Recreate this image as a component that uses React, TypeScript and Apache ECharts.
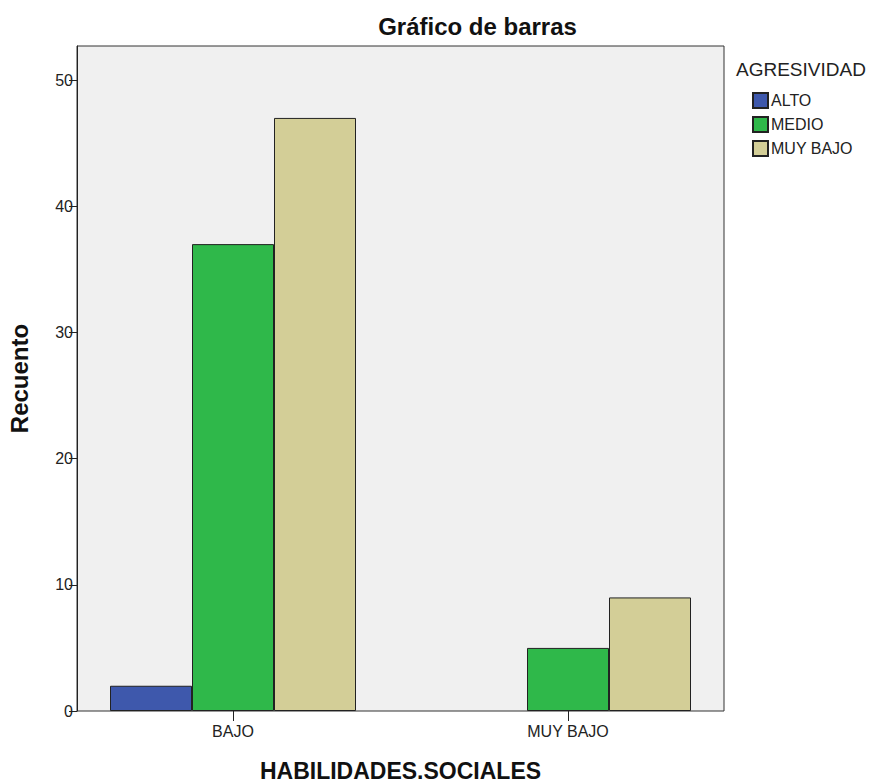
import React, { useEffect, useRef } from "react";
import * as echarts from "echarts";

const categories = ["BAJO", "MUY BAJO"];
const seriesNames = ["ALTO", "MEDIO", "MUY BAJO"];
const altoValues = [2, null];
const medioValues = [37, 5];
const muyBajoValues = [47, 9];
const yTicks = [0, 10, 20, 30, 40, 50];
const colors = ["#3e58ac", "#2fb84a", "#d3ce97"];

export default function App() {
  const ref = useRef<HTMLDivElement>(null);
  useEffect(() => {
    if (!ref.current) return;
    const chart = echarts.init(ref.current, undefined, { renderer: "svg" });
    const font = "'Liberation Sans', Arial, sans-serif";
    const yMax = 52.7;
    const values = [altoValues, medioValues, muyBajoValues];
    chart.setOption({
      animation: false,
      backgroundColor: "#ffffff",
      textStyle: { fontFamily: font },
      title: {
        text: "Gráfico de barras",
        left: 477.5,
        textAlign: "center",
        top: 14,
        padding: 0,
        textStyle: { fontSize: 24, fontWeight: "bold", color: "#111", fontFamily: font },
      },
      legend: {
        data: seriesNames,
        orient: "vertical",
        left: 752,
        top: 92,
        padding: 0,
        itemWidth: 15,
        itemHeight: 15,
        itemGap: 7,
        icon: "rect",
        textStyle: { fontSize: 16, color: "#222", fontFamily: font, padding: [0, 0, 0, -2] },
      },
      graphic: [
        {
          type: "text",
          x: 736,
          y: 69,
          style: {
            text: "AGRESIVIDAD",
            fontSize: 19,
            fontFamily: font,
            fill: "#222",
            verticalAlign: "middle",
            align: "left",
          },
        },
      ],
      grid: [
        {
          left: 77,
          top: 46,
          width: 647,
          height: 665,
          show: true,
          backgroundColor: "#f0f0f0",
          borderColor: "#333",
          borderWidth: 1,
          containLabel: false,
          outerBoundsMode: "none",
        },
        {
          left: 65.5,
          top: 46,
          width: 670,
          height: 665,
          containLabel: false,
          outerBoundsMode: "none",
        },
      ],
      xAxis: [
        { type: "value", gridIndex: 0, show: false, min: 0, max: 1 },
        {
          type: "category",
          gridIndex: 1,
          data: categories,
          axisLine: { show: false },
          axisTick: { show: true, alignWithLabel: true, length: 10, lineStyle: { color: "#222" } },
          axisLabel: { fontSize: 16, color: "#222", margin: 12, fontFamily: font },
          name: "HABILIDADES.SOCIALES",
          nameLocation: "middle",
          nameGap: 48,
          nameTextStyle: { fontSize: 23, fontWeight: "bold", color: "#111", fontFamily: font, verticalAlign: "top" },
        },
      ],
      yAxis: [
        {
          type: "value",
          gridIndex: 0,
          min: 0,
          max: yMax,
          interval: 10,
          splitLine: { show: false },
          axisLine: { show: true, lineStyle: { color: "#222" } },
          axisTick: { show: true, length: 8, lineStyle: { color: "#222" }, customValues: yTicks },
          axisLabel: { fontSize: 16, color: "#222", margin: 4, fontFamily: font, customValues: yTicks },
          name: "Recuento",
          nameLocation: "middle",
          nameGap: 46,
          nameTextStyle: { fontSize: 24, fontWeight: "bold", color: "#111", fontFamily: font },
        },
        { type: "value", gridIndex: 1, min: 0, max: yMax, show: false },
      ],
      series: seriesNames.map((name, i) => ({
        name,
        type: "bar",
        xAxisIndex: 1,
        yAxisIndex: 1,
        data: values[i],
        barWidth: 82,
        barGap: "0%",
        itemStyle: { color: colors[i], borderColor: "#222", borderWidth: 1 },
      })),
    });
    return () => chart.dispose();
  }, []);
  return (
    <div
      ref={ref}
      style={{ position: "fixed", left: 0, top: 0, width: 877, height: 782 }}
    />
  );
}
